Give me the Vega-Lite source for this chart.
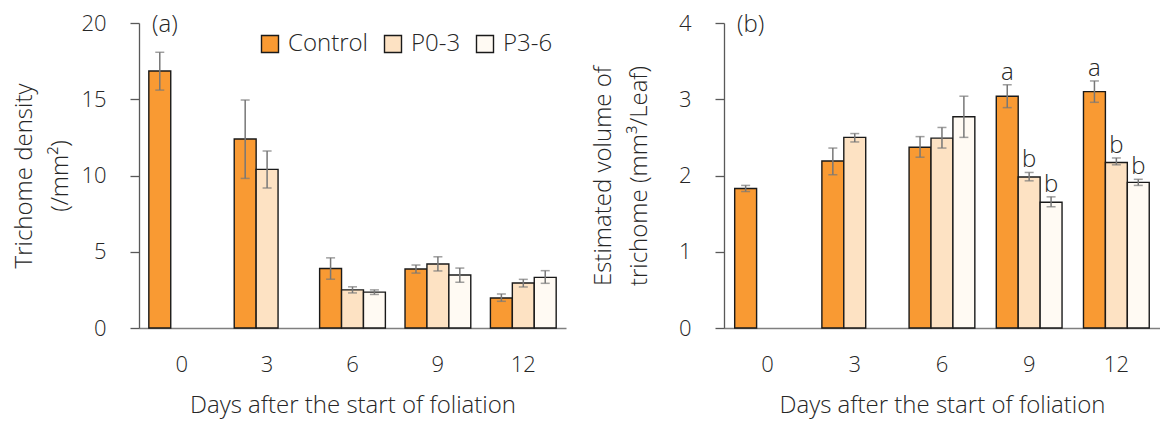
{
  "$schema": "https://vega.github.io/schema/vega-lite/v6.json",
  "padding": {"left": 12, "top": 12, "right": 0, "bottom": 8},
  "bounds": "flush",
  "spacing": 158,
  "config": {
    "font": "Open Sans",
    "view": {"stroke": null},
    "axis": {"labelFont": "Open Sans", "titleFont": "Open Sans", "labelFontSize": 22, "labelFontWeight": 300, "labelColor": "#262626", "titleFontSize": 24, "titleFontWeight": 300, "titleColor": "#262626", "grid": false},
    "axisY": {"tickSize": 9, "tickColor": "#595959", "domainColor": "#595959", "tickWidth": 1.3, "domainWidth": 1.3, "labelPadding": 24, "titlePadding": 6, "titleLineHeight": 36},
    "axisX": {"ticks": false, "domainColor": "#7f7f7f", "domainWidth": 1.5, "labelPadding": 26, "titlePadding": 18, "labelAngle": 0},
    "title": {"font": "Open Sans", "fontSize": 24, "fontWeight": 300, "color": "#262626"}
  },
  "datasets": {
    "a": [
      {"day": 0, "treatment": "Control", "mean": 16.85, "lo": 15.6, "hi": 18.08},
      {"day": 3, "treatment": "Control", "mean": 12.39, "lo": 9.81, "hi": 14.95},
      {"day": 6, "treatment": "Control", "mean": 3.9, "lo": 3.2, "hi": 4.6},
      {"day": 9, "treatment": "Control", "mean": 3.87, "lo": 3.6, "hi": 4.13},
      {"day": 12, "treatment": "Control", "mean": 1.97, "lo": 1.75, "hi": 2.23},
      {"day": 3, "treatment": "P0-3", "mean": 10.4, "lo": 9.18, "hi": 11.6},
      {"day": 6, "treatment": "P0-3", "mean": 2.5, "lo": 2.3, "hi": 2.7},
      {"day": 9, "treatment": "P0-3", "mean": 4.2, "lo": 3.74, "hi": 4.67},
      {"day": 12, "treatment": "P0-3", "mean": 2.95, "lo": 2.69, "hi": 3.19},
      {"day": 6, "treatment": "P3-6", "mean": 2.35, "lo": 2.2, "hi": 2.5},
      {"day": 9, "treatment": "P3-6", "mean": 3.48, "lo": 3.0, "hi": 3.93},
      {"day": 12, "treatment": "P3-6", "mean": 3.32, "lo": 2.93, "hi": 3.76}
    ],
    "b": [
      {"day": 0, "treatment": "Control", "mean": 1.83, "lo": 1.79, "hi": 1.87, "sig": ""},
      {"day": 3, "treatment": "Control", "mean": 2.19, "lo": 2.01, "hi": 2.36, "sig": ""},
      {"day": 6, "treatment": "Control", "mean": 2.37, "lo": 2.24, "hi": 2.51, "sig": ""},
      {"day": 9, "treatment": "Control", "mean": 3.04, "lo": 2.89, "hi": 3.19, "sig": "a"},
      {"day": 12, "treatment": "Control", "mean": 3.1, "lo": 2.96, "hi": 3.24, "sig": "a"},
      {"day": 3, "treatment": "P0-3", "mean": 2.5, "lo": 2.44, "hi": 2.55, "sig": ""},
      {"day": 6, "treatment": "P0-3", "mean": 2.49, "lo": 2.36, "hi": 2.63, "sig": ""},
      {"day": 9, "treatment": "P0-3", "mean": 1.98, "lo": 1.93, "hi": 2.04, "sig": "b"},
      {"day": 12, "treatment": "P0-3", "mean": 2.17, "lo": 2.14, "hi": 2.23, "sig": "b"},
      {"day": 6, "treatment": "P3-6", "mean": 2.77, "lo": 2.5, "hi": 3.04, "sig": ""},
      {"day": 9, "treatment": "P3-6", "mean": 1.65, "lo": 1.59, "hi": 1.72, "sig": "b"},
      {"day": 12, "treatment": "P3-6", "mean": 1.91, "lo": 1.87, "hi": 1.95, "sig": "b"}
    ]
  },
  "hconcat": [
    {
      "width": 427,
      "height": 305,
      "data": {"name": "a"},
      "title": {"text": "(a)", "anchor": "start", "frame": "group", "dx": 13, "offset": -25},
      "encoding": {
        "x": {"field": "day", "type": "ordinal", "scale": {"paddingInner": 0.23, "paddingOuter": 0.115}, "axis": {"title": "Days after the start of foliation"}},
        "xOffset": {"field": "treatment", "type": "nominal", "scale": {"domain": ["Control", "P0-3", "P3-6"]}}
      },
      "layer": [
        {
          "mark": {"type": "bar", "stroke": "#1a1a1a", "strokeWidth": 1.4},
          "encoding": {
            "y": {"field": "mean", "type": "quantitative", "scale": {"domain": [0, 20]}, "axis": {"values": [0, 5, 10, 15, 20], "title": ["Trichome density", "(/mm²)"], "titlePadding": 8}},
            "fill": {"field": "treatment", "type": "nominal", "scale": {"domain": ["Control", "P0-3", "P3-6"], "range": ["#f99a33", "#fde2c3", "#fffaf3"]},
              "legend": {"title": null, "orient": "none", "legendX": 119, "legendY": 9, "direction": "horizontal", "symbolType": "square", "symbolSize": 289, "symbolStrokeColor": "#1a1a1a", "symbolStrokeWidth": 1.4, "labelFontSize": 24, "labelFontWeight": 300, "labelColor": "#262626", "labelOffset": 6, "columnPadding": 12, "labelFont": "Open Sans"}}
          }
        },
        {
          "mark": {"type": "rule", "color": "#777777", "strokeWidth": 1.5},
          "encoding": {"y": {"field": "lo", "type": "quantitative"}, "y2": {"field": "hi"}}
        },
        {
          "mark": {"type": "tick", "color": "#777777", "thickness": 1.5, "size": 9},
          "encoding": {"y": {"field": "lo", "type": "quantitative"}}
        },
        {
          "mark": {"type": "tick", "color": "#777777", "thickness": 1.5, "size": 9},
          "encoding": {"y": {"field": "hi", "type": "quantitative"}}
        }
      ]
    },
    {
      "width": 436,
      "height": 305,
      "data": {"name": "b"},
      "title": {"text": "(b)", "anchor": "start", "frame": "group", "dx": 13, "offset": -25},
      "encoding": {
        "x": {"field": "day", "type": "ordinal", "scale": {"paddingInner": 0.245, "paddingOuter": 0.1225}, "axis": {"title": "Days after the start of foliation"}},
        "xOffset": {"field": "treatment", "type": "nominal", "scale": {"domain": ["Control", "P0-3", "P3-6"]}}
      },
      "layer": [
        {
          "mark": {"type": "bar", "stroke": "#1a1a1a", "strokeWidth": 1.4},
          "encoding": {
            "y": {"field": "mean", "type": "quantitative", "scale": {"domain": [0, 4]}, "axis": {"values": [0, 1, 2, 3, 4], "format": "d", "title": ["Estimated  volume of", "trichome (mm³/Leaf)"], "titlePadding": 27}},
            "fill": {"field": "treatment", "type": "nominal", "scale": {"domain": ["Control", "P0-3", "P3-6"], "range": ["#f99a33", "#fde2c3", "#fffaf3"]}, "legend": null}
          }
        },
        {
          "mark": {"type": "rule", "color": "#777777", "strokeWidth": 1.5},
          "encoding": {"y": {"field": "lo", "type": "quantitative"}, "y2": {"field": "hi"}}
        },
        {
          "mark": {"type": "tick", "color": "#777777", "thickness": 1.5, "size": 9},
          "encoding": {"y": {"field": "lo", "type": "quantitative"}}
        },
        {
          "mark": {"type": "tick", "color": "#777777", "thickness": 1.5, "size": 9},
          "encoding": {"y": {"field": "hi", "type": "quantitative"}}
        },
        {
          "mark": {"type": "text", "fontSize": 24, "fontWeight": 300, "color": "#262626", "baseline": "alphabetic", "dy": -5},
          "encoding": {"y": {"field": "hi", "type": "quantitative"}, "text": {"field": "sig"}}
        }
      ]
    }
  ]
}
